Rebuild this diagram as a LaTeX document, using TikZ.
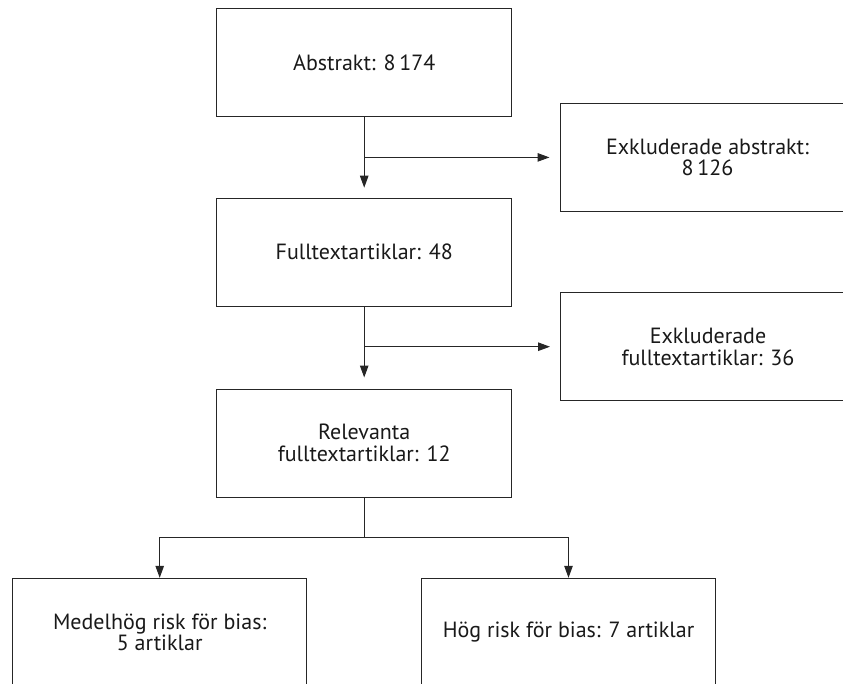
\documentclass[tikz,border=0pt]{standalone}
\usepackage{fontspec}
\setmainfont{PT Sans}
\usetikzlibrary{arrows.meta}
\begin{document}
\begin{tikzpicture}[x=1pt,y=-1pt,
  box/.style={draw=black!85, line width=1pt, minimum width=295pt, minimum height=108pt,
    align=center, inner sep=0pt, font=\fontsize{22}{21.5}\selectfont, text=black!90},
  arr/.style={draw=black!85, line width=1pt, -{Triangle[length=12pt,width=8.5pt]}},
  ln/.style={draw=black!85, line width=1pt}]
\clip (0,0) rectangle (843,683);
\useasboundingbox (0,0) rectangle (843,683);
\node[box] (abs) at (364.2,62.8) {Abstrakt: 8\,174};
\node[box] (exa) at (707.5,157.4) {Exkluderade abstrakt:\\8\,126};
\node[box] (full) at (364.2,252.2) {Fulltextartiklar: 48};
\node[box] (exf) at (708,346.7) {Exkluderade\\fulltextartiklar: 36};
\node[box] (rel) at (364.2,443) {Relevanta\\fulltextartiklar: 12};
\node[box, minimum width=294pt] (med) at (159.7,632.3) {Medelhög risk för bias:\\5 artiklar};
\node[box, minimum width=294pt] (hog) at (568.5,632.3) {Hög risk för bias: 7 artiklar};
\coordinate (b1) at (abs.south |- exa.west);
\coordinate (b2) at (full.south |- exf.west);
\coordinate (split) at (364.2,537.3);
\draw[arr, shorten >=10pt] (abs.south) -- (full.north);
\draw[arr, shorten >=10pt] (b1) -- (exa.west);
\draw[arr, shorten >=11pt] (full.south) -- (rel.north);
\draw[arr, shorten >=10pt] (b2) -- (exf.west);
\draw[ln] (rel.south) -- (split);
\draw[arr] (split) -| (med.north);
\draw[arr] (split) -| (hog.north);
\end{tikzpicture}
\end{document}
